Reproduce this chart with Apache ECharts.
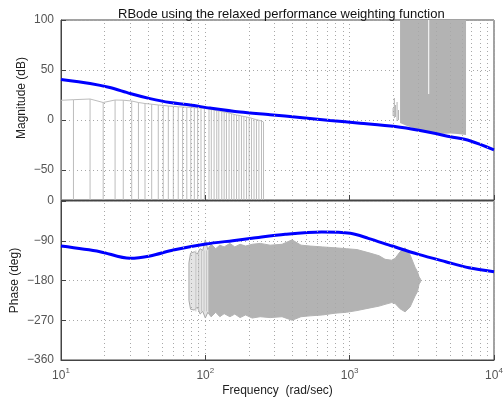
<!DOCTYPE html>
<html>
<head>
<meta charset="utf-8">
<script src="https://cdn.jsdelivr.net/npm/echarts@6/dist/echarts.min.js"></script>
<style>
  html, body { margin: 0; padding: 0; background: #fff; }
  #chart { width: 504px; height: 405px; }
</style>
</head>
<body>
<div id="chart"></div>
<script>
// nominal response (blue)
var magFreq = [10, 15.9, 21.8, 30.1, 41.4, 56.9, 78.3, 107.6, 174, 281, 452, 731, 1180, 2064, 3076, 5000, 6800, 10000]
var magDb = [40.6, 36.6, 32.5, 26.5, 21.4, 17.4, 15, 11.9, 7.9, 5.3, 2.5, -0.5, -3.2, -6.6, -10.6, -16.7, -20.7, -29.8]
var phaseFreq = [10, 18.6, 30, 41.4, 60, 101, 155, 210, 358, 640, 1010, 1346, 1970, 3000, 4625, 6700, 10000]
var phaseDeg = [-102, -114.7, -129.8, -124.5, -111, -97.4, -89.8, -84.5, -75.5, -70.2, -73.2, -84.5, -102, -120.8, -137.4, -151, -160]

// perturbed responses (gray), magnitude stems at low freq
var stemFreq = [10, 12.2, 15.9, 19.6, 23.7, 27, 30.9, 34.4, 38.2, 42.5, 47.2, 51.1, 55.4, 60, 64.9, 69.6, 74.4, 79.3, 83.9, 88.5, 93.3, 98.5,
  106, 110, 115, 120, 124, 130, 135, 140, 146, 152, 158, 164.5, 171, 178, 185, 193, 201, 209, 217.5, 226, 235, 245, 253]
var stemTop = [19.7, 20.3, 21, 17.5, 20, 19.8, 19, 17.5, 16.5, 15.8, 15, 14.6, 14, 13.6, 13.2, 13, 12.8, 12.5, 12.3, 12.1, 12, 11.6,
  11, 10.6, 10, 9.4, 9, 8.5, 8, 7.6, 7, 6.3, 5.6, 5, 4.6, 4, 3.5, 3, 2.4, 1.8, 1, 0.4, -0.2, -1, -2]

// magnitude spikes and block at high freq
var spikeFreq = [2000, 2040, 2080, 2130, 2180]
var spikeLow = [4, 2, 3, -1, 0]
var spikeHigh = [12, 22, 15, 18, 10]
var blockFreq = [2234, 2500, 2800, 3100, 3500, 4200, 5000, 5600, 6400]
var blockLow = [-3, -6, -8.5, -11, -12.5, -14, -13.5, -14, -15]
var gapFreq = [3530]
var gapLow = [26]

// phase band
var lobeFreq = [77, 79, 84, 88, 92, 96, 100, 104, 110]
var lobeHigh = [-140, -118, -115, -120, -108, -112, -88, -110, -98]
var lobeLow = [-225, -245, -247, -240, -256, -250, -265, -252, -262]
var lobeStemFreq = [86, 90, 94, 98, 102, 106]
var bandFreq = [106, 110, 118, 126, 135, 148, 160, 174, 190, 211, 240, 281, 340, 399, 460, 532, 650, 793, 950, 1125, 1384, 1600, 1758, 1950, 2064, 2234, 2421, 2622, 2839, 2950, 3026, 3100]
var bandHigh = [-104, -98, -108, -100, -104, -96, -104, -98, -102, -98, -96, -100, -98, -88, -100, -102, -104, -106, -108, -110, -118, -124, -132, -134, -130, -115, -106, -122, -150, -160, -172, -177]
var bandLow = [-256, -262, -252, -262, -255, -262, -256, -264, -258, -265, -262, -264, -262, -270, -262, -260, -258, -254, -252, -248, -242, -238, -234, -230, -232, -244, -251, -240, -215, -205, -188, -183]

var magTicks = [-50, 0, 50, 100]
var magMin = -80, magMax = 100

var minorFreq = []
;[10, 100, 1000].forEach(function (d) { for (var k = 2; k <= 9; k++) minorFreq.push(k * d) })

var font = 'Liberation Sans, Arial, Helvetica, sans-serif'
var gray = '#b3b3b3'
var dotted = { color: '#a8a8a8', width: 1, type: [1, 3] }

function pairs(xs, ys) { return xs.map(function (x, i) { return [x, ys[i]] }) }
function triples(xs, lo, hi) { return xs.map(function (x, i) { return [x, lo[i], hi[i]] }) }

function polygonItem(freq, low, high, fill, stroke) {
  return function (params, api) {
    if (params.dataIndex !== 0) return null
    var pts = []
    for (var i = 0; i < freq.length; i++) pts.push(api.coord([freq[i], high[i]]))
    for (var j = freq.length - 1; j >= 0; j--) pts.push(api.coord([freq[j], low[j]]))
    return { type: 'polygon', shape: { points: pts }, style: { fill: fill, stroke: stroke || null, lineWidth: stroke ? 1 : 0 } }
  }
}
function stemItem(color) {
  return function (params, api) {
    var a = api.coord([api.value(0), api.value(1)])
    var b = api.coord([api.value(0), api.value(2)])
    return { type: 'line', shape: { x1: a[0], y1: a[1], x2: b[0], y2: b[1] }, style: { stroke: color, lineWidth: 1 } }
  }
}
function custom(grid, data, fn, z) {
  return { type: 'custom', xAxisIndex: grid, yAxisIndex: grid, data: data, encode: { x: 0, y: [1, 2] }, renderItem: fn, silent: true, z: z || 2, clip: true }
}
function minorGrid(grid) {
  return {
    type: 'line', xAxisIndex: grid, yAxisIndex: grid, data: [], z: 1,
    markLine: { silent: true, symbol: ['none', 'none'], label: { show: false }, lineStyle: dotted, animation: false,
      data: minorFreq.map(function (f) { return { xAxis: f } }) }
  }
}

var xBase = {
  type: 'log', logBase: 10, min: 10, max: 10000,
  axisLine: { show: true, onZero: false, lineStyle: { color: '#444' } },
  axisTick: { show: true, inside: true, length: 5, lineStyle: { color: '#444' } },
  splitLine: { show: true, lineStyle: dotted },
  minorTick: { show: false }
}
var yLabel = { color: '#555', fontSize: 12, fontFamily: font, margin: 7, formatter: function (v) { return String(v).replace('-', '\u2212') } }

var chart = echarts.init(document.getElementById('chart'), null, { renderer: 'canvas' })
chart.setOption({
  animation: false,
  backgroundColor: '#fff',
  title: {
    text: 'RBode using the relaxed performance weighting function',
    left: 113, top: 3,
    textStyle: { fontSize: 13, fontWeight: 'normal', color: '#111', fontFamily: font }
  },
  grid: [
    { left: 61, right: 10, top: 20, height: 180, outerBoundsMode: 'none', show: true, borderColor: '#444', borderWidth: 1 },
    { left: 61, right: 10, top: 201, height: 159, outerBoundsMode: 'none', show: true, borderColor: '#444', borderWidth: 1 }
  ],
  xAxis: [
    Object.assign({}, xBase, { gridIndex: 0, axisLabel: { show: false } }),
    Object.assign({}, xBase, {
      gridIndex: 1,
      name: 'Frequency  (rad/sec)', nameLocation: 'middle', nameGap: 25, nameMoveOverlap: false,
      nameTextStyle: { fontSize: 12, color: '#222', fontFamily: font },
      axisLabel: {
        margin: 7, fontFamily: font, color: '#555',
        formatter: function (v) { return '{b|10}{s|' + Math.round(Math.log10(v)) + '}' },
        rich: { b: { fontSize: 12, color: '#555', fontFamily: font }, s: { fontSize: 8, color: '#555', fontFamily: font, padding: [0, 0, 9, 0] } }
      }
    })
  ],
  yAxis: [
    {
      type: 'value', gridIndex: 0, min: magMin, max: magMax,
      name: 'Magnitude (dB)', nameLocation: 'middle', nameGap: 33, nameMoveOverlap: false,
      nameTextStyle: { fontSize: 12, color: '#222', fontFamily: font, padding: [0, 0, 0, 24] },
      axisLine: { show: true, onZero: false, lineStyle: { color: '#444' } },
      axisTick: { show: true, inside: true, length: 5, customValues: magTicks, lineStyle: { color: '#444' } },
      axisLabel: Object.assign({}, yLabel, { customValues: magTicks }),
      splitLine: { show: true, lineStyle: dotted }
    },
    {
      type: 'value', gridIndex: 1, min: -360, max: 0, interval: 90,
      name: 'Phase (deg)', nameLocation: 'middle', nameGap: 40, nameMoveOverlap: false,
      nameTextStyle: { fontSize: 12, color: '#222', fontFamily: font },
      axisLine: { show: true, onZero: false, lineStyle: { color: '#444' } },
      axisTick: { show: true, inside: true, length: 5, lineStyle: { color: '#444' } },
      axisLabel: yLabel,
      splitLine: { show: true, lineStyle: dotted }
    }
  ],
  series: [
    minorGrid(0),
    minorGrid(1),
    // magnitude, perturbed
    custom(0, stemFreq.map(function (f, i) { return [f, magMin, stemTop[i]] }), stemItem('#bdbdbd')),
    { type: 'line', xAxisIndex: 0, yAxisIndex: 0, data: pairs(stemFreq, stemTop), symbol: 'none', silent: true, z: 2,
      lineStyle: { color: '#bdbdbd', width: 1 } },
    custom(0, triples(spikeFreq, spikeLow, spikeHigh), stemItem(gray)),
    custom(0, triples(blockFreq, blockLow, blockFreq.map(function () { return magMax })), polygonItem(blockFreq, blockLow, blockFreq.map(function () { return magMax }), gray)),
    custom(0, triples(gapFreq, gapLow, [magMax]), stemItem('#ffffff'), 3),
    // phase, perturbed
    custom(1, triples(lobeFreq, lobeLow, lobeHigh), polygonItem(lobeFreq, lobeLow, lobeHigh, '#e4e4e4', '#a8a8a8')),
    custom(1, lobeStemFreq.map(function (f) { return [f, -250, -112] }), stemItem('#c4c4c4')),
    custom(1, triples(bandFreq, bandLow, bandHigh), polygonItem(bandFreq, bandLow, bandHigh, gray, gray)),
    // nominal
    { type: 'line', xAxisIndex: 0, yAxisIndex: 0, data: pairs(magFreq, magDb), symbol: 'none', smooth: 0.3, z: 4,
      lineStyle: { color: '#0000ff', width: 3 } },
    { type: 'line', xAxisIndex: 1, yAxisIndex: 1, data: pairs(phaseFreq, phaseDeg), symbol: 'none', smooth: 0.3, z: 4,
      lineStyle: { color: '#0000ff', width: 3 } }
  ]
})
</script>
</body>
</html>
